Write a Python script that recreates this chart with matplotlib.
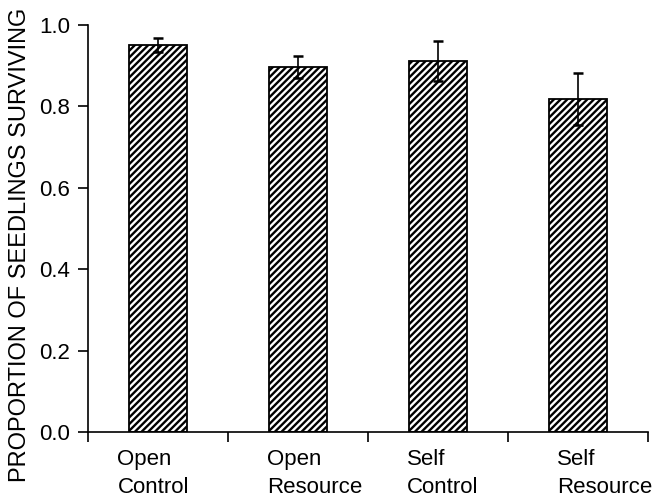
import matplotlib
matplotlib.use("Agg")
import matplotlib.pyplot as plt
import matplotlib.transforms as mtransforms
import numpy as np

# seedling survival by pollination / resource treatment
categories = ["Open\nControl", "Open\nResource", "Self\nControl", "Self\nResource"]
survival = [0.951, 0.897, 0.912, 0.818]
survival_se = [0.018, 0.026, 0.049, 0.064]

plt.rcParams['font.family'] = ['Liberation Sans', 'DejaVu Sans']
plt.rcParams['hatch.linewidth'] = 1.7

fig = plt.figure(figsize=(6.57, 4.97), dpi=100)
ax = fig.add_axes([0.134, 0.1308, 0.852, 0.8189])

x = np.arange(len(categories))
ax.bar(x, survival, width=0.41, color='white', edgecolor='black',
       hatch='/////', linewidth=1.3, zorder=2)
ax.errorbar(x, survival, yerr=survival_se, fmt='none', ecolor='black',
            elinewidth=1.2, capsize=3.5, capthick=1.8, zorder=3)

ax.set_xlim(-0.5, len(categories) - 0.5)
ax.set_ylim(0, 1.0)
yticks = np.arange(0, 1.01, 0.2)
ax.set_yticks(yticks)
ax.set_yticklabels([f"{v:.1f}" for v in yticks])

# boundary ticks between categories; labels are placed as text below
ax.set_xticks(np.arange(-0.5, len(categories), 1.0))
ax.set_xticklabels([])
ax.tick_params(axis='x', length=7, width=1.2, direction='out')
ax.tick_params(axis='y', length=7, width=1.2, direction='out', pad=6, labelsize=16)

# left-aligned two-line category labels, shifted left of each bar
label_shift = [-0.29, -0.22, -0.22, -0.15]
trans = mtransforms.blended_transform_factory(ax.transData, ax.transAxes)
for xi, lab, dx in zip(x, categories, label_shift):
    ax.text(xi + dx, -0.041, lab, transform=trans, ha='left', va='top',
            fontsize=16, linespacing=1.45, clip_on=False)

for side in ['top', 'right']:
    ax.spines[side].set_visible(False)
for side in ['left', 'bottom']:
    ax.spines[side].set_linewidth(1.2)

fig.text(20 / 657, 0.507, "PROPORTION OF SEEDLINGS SURVIVING", rotation=90,
         ha='center', va='center', fontsize=17)

fig.savefig("out.png", dpi=100)
